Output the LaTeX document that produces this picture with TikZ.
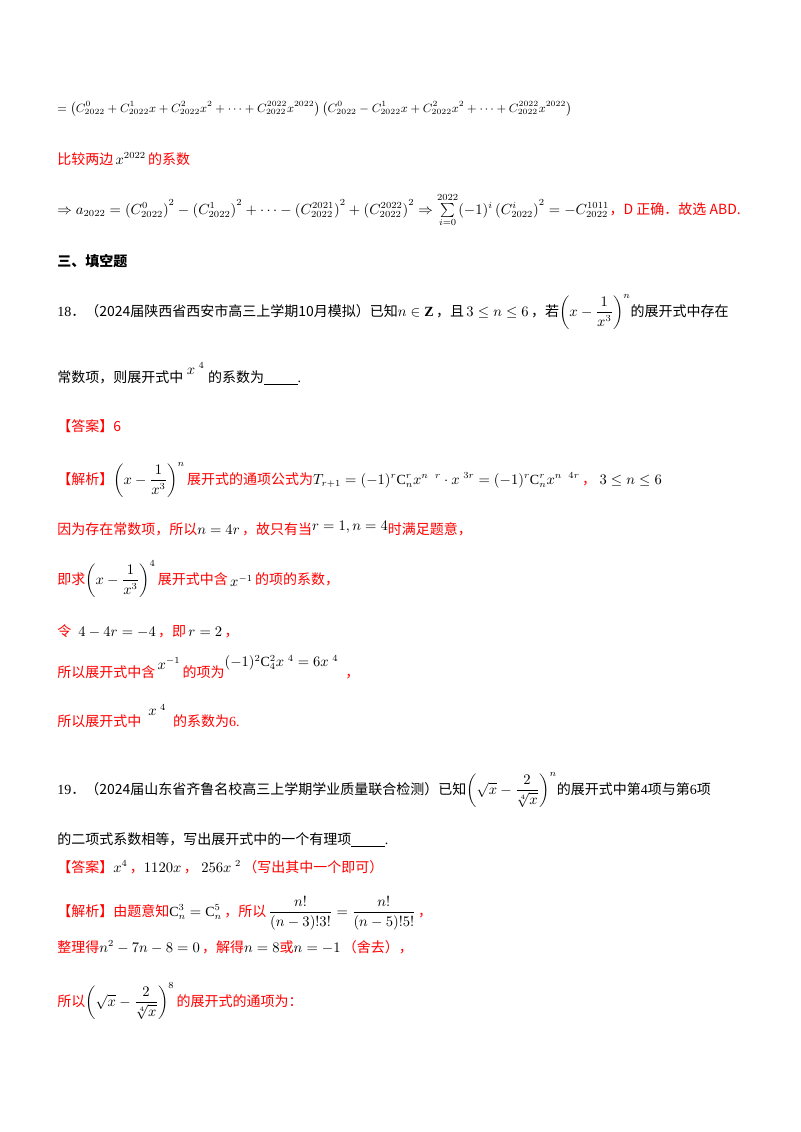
\documentclass[tikz,border=0pt]{standalone}
\usepackage{amsmath,amssymb}
\usepackage{fontspec}
\setmainfont{Liberation Serif}
\newfontfamily\cjk{Noto Sans CJK SC}
\definecolor{rd}{RGB}{255,0,0}
\begin{document}
\begin{tikzpicture}[x=0.75pt,y=-0.75pt,
  every node/.style={anchor=base west,inner sep=0pt,font=\fontsize{10.5}{12}\selectfont},
  red/.style={text=rd}]
\useasboundingbox[fill=white] (0,0) rectangle (800,1132);
\node (l1) at (57,112) {\small$=\left(C_{2022}^{0}+C_{2022}^{1}x+C_{2022}^{2}x^{2}+\cdots+C_{2022}^{2022}x^{2022}\right)\left(C_{2022}^{0}-C_{2022}^{1}x+C_{2022}^{2}x^{2}+\cdots+C_{2022}^{2022}x^{2022}\right)$};
\node[red] (l2) at (57,164) {{\cjk 比较两边}\,$\color{black}x^{2022}$\,{\cjk 的系数}};
\node (l3) at (57,214) {$\Rightarrow a_{2022}=\left(C_{2022}^{0}\right)^2-\left(C_{2022}^{1}\right)^2+\cdots-\left(C_{2022}^{2021}\right)^2+\left(C_{2022}^{2022}\right)^2\Rightarrow\sum\limits_{i=0}^{2022}(-1)^i\left(C_{2022}^{i}\right)^2=-C_{2022}^{1011}$};
\node[red,anchor=base west] (l3b) at (l3.base east) {\cjk ，D 正确．故选 ABD.};
\node (h3) at (57,266) {\cjk\bfseries 三、填空题};
\node (q18) at (57,316) {18{\cjk ．（2024届陕西省西安市高三上学期10月模拟）已知}$n\in\mathbf{Z}$\,{\cjk ，且}\,$3\le n\le 6$\,{\cjk ，若}$\left(x-\dfrac{1}{x^3}\right)^{n}${\cjk 的展开式中存在}};
\node (q18b) at (57,382) {{\cjk 常数项，则展开式中}\ \raisebox{6pt}{$x^{\ 4}$}\ {\cjk 的系数为}\underline{\hspace{2.4em}}.};
\node[red] (a18) at (57,431) {\cjk 【答案】6};
\node[red] (j18) at (57,484) {{\cjk 【解析】}$\color{black}\left(x-\dfrac{1}{x^3}\right)^{n}$\,{\cjk 展开式的通项公式为}$\color{black}T_{r+1}=(-1)^r\mathrm{C}_n^r x^{n\ \ r}\cdot x^{\ 3r}=(-1)^r\mathrm{C}_n^r x^{n\ \ 4r}$\,{\cjk ，}\ $\color{black}3\le n\le 6$};
\node[red] (s1) at (57,534) {{\cjk 因为存在常数项，所以}$\color{black}n=4r$\,{\cjk ，故只有当}\raisebox{3pt}{$\color{black}r=1,n=4$}{\cjk 时满足题意，}};
\node[red] (s2) at (57,584) {{\cjk 即求}$\color{black}\left(x-\dfrac{1}{x^3}\right)^{4}$\,{\cjk 展开式中含}\,\raisebox{-2pt}{$\color{black}x^{-1}$}\,{\cjk 的项的系数，}};
\node[red] (s3) at (57,636) {{\cjk 令}\ \ $\color{black}4-4r=-4$\,{\cjk ，即}\,$\color{black}r=2$\,{\cjk ，}};
\node[red] (s4) at (57,677) {{\cjk 所以展开式中含}\,\raisebox{6pt}{$\color{black}x^{-1}$}\,{\cjk 的项为}\raisebox{8pt}{$\color{black}(-1)^2\mathrm{C}_4^2x^{\ 4}=6x^{\ 4}$}\ \ {\cjk ，}};
\node[red] (s5) at (57,726) {{\cjk 所以展开式中}\ \ \raisebox{8pt}{$\color{black}x^{\ 4}$}\ \ {\cjk 的系数为}6.};
\node (q19) at (57,794) {19{\cjk ．（2024届山东省齐鲁名校高三上学期学业质量联合检测）已知}$\left(\sqrt{x}-\dfrac{2}{\sqrt[4]{x}}\right)^{n}${\cjk 的展开式中第}4{\cjk 项与第}6{\cjk 项}};
\node (q19b) at (57,844) {{\cjk 的二项式系数相等，写出展开式中的一个有理项}\underline{\hspace{2.4em}}.};
\node[red] (a19) at (57,872) {{\cjk 【答案】}$\color{black}x^4$\,{\cjk ，}$\color{black}1120x$\,{\cjk ，}\ $\color{black}256x^{\ 2}$\,{\cjk （写出其中一个即可）}};
\node[red] (j19) at (57,916) {{\cjk 【解析】由题意知}$\color{black}\mathrm{C}_n^3=\mathrm{C}_n^5$\,{\cjk ，所以}\,$\color{black}\dfrac{n!}{(n-3)!3!}=\dfrac{n!}{(n-5)!5!}$\,{\cjk ，}};
\node[red] (t1) at (57,952) {{\cjk 整理得}$\color{black}n^2-7n-8=0$\,{\cjk ，解得}$\color{black}n=8${\cjk 或}$\color{black}n=-1$\,{\cjk （舍去），}};
\node[red] (t2) at (57,1006) {{\cjk 所以}$\color{black}\left(\sqrt{x}-\dfrac{2}{\sqrt[4]{x}}\right)^{8}$\,{\cjk 的展开式的通项为：}};
\end{tikzpicture}
\end{document}
